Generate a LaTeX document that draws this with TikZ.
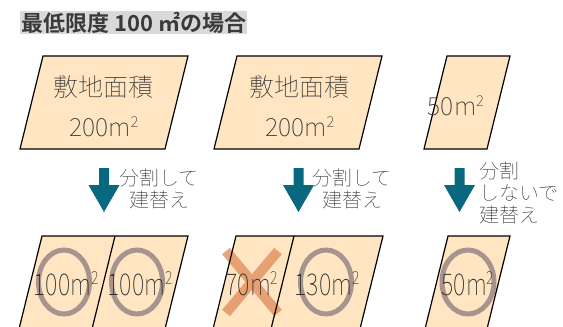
\documentclass[tikz,border=0pt]{standalone}
\usepackage{fontspec}
\newfontfamily\jp{Noto Sans CJK JP Thin}
\newfontfamily\jpb{Noto Sans CJK JP Bold}
\newcommand\sqtwo{\raisebox{0.34em}{\scalebox{0.6}{2}}}
\definecolor{boxfill}{HTML}{FFE5C2}
\definecolor{arrowc}{HTML}{08687F}
\definecolor{ringc}{HTML}{A8948F}
\definecolor{crossc}{HTML}{E08A58}
\definecolor{txt}{HTML}{2E2E2E}
\definecolor{titlebg}{HTML}{D9D9D9}
\definecolor{titletxt}{HTML}{3A3A3A}
\begin{document}
\begin{tikzpicture}[x=1pt,y=-1pt,
  land/.style={fill=boxfill},
  edge/.style={draw=black, line width=1.2pt, line join=miter},
  ring/.style={draw=ringc, line width=5pt},
  cross/.style={draw=crossc, draw opacity=0.75, line width=10pt},
  bigarrow/.style={fill=arrowc},
  lbl/.style={font=\jp\fontsize{25}{28}\selectfont, text=txt, inner sep=0pt, anchor=base},
  lblb/.style={font=\jp\fontsize{30}{32}\selectfont, text=txt, inner sep=0pt, anchor=base},
  note/.style={font=\jp\fontsize{20}{22}\selectfont, text=txt, inner sep=0pt},
  titlebox/.style={fill=titlebg, text=titletxt, font=\jpb\fontsize{22}{23}\selectfont, inner xsep=1pt, inner ysep=0pt, minimum height=23pt, anchor=west}]
\useasboundingbox (0,0) rectangle (563,327);

% title
\node[titlebox] (title) at (20,22.5) {最低限度 100 ㎡の場合};

% top lots
\filldraw[land,edge] (43,56) -- (188,56) -- (165,149) -- (20,149) -- cycle;
\filldraw[land,edge] (237,56) -- (382,56) -- (359,149) -- (214,149) -- cycle;
\filldraw[land,edge] (447,56) -- (510,56) -- (487,149) -- (424,149) -- cycle;

\node[lbl] (a1) at (103,96) {敷地面積};
\node[lbl] (a2) at (104,136) {200m\sqtwo};
\node[lbl] (b1) at (299,96) {敷地面積};
\node[lbl] (b2) at (300,136) {200m\sqtwo};
\node[lbl] (c1) at (456,115) {50m\sqtwo};

% arrows
\foreach \cx in {104,298.5,459.5}
  \fill[bigarrow] (\cx-5,168) -- (\cx+5,168) -- (\cx+5,185) -- (\cx+15.5,185)
    -- (\cx,212) -- (\cx-15.5,185) -- (\cx-5,185) -- cycle;

\node[note, align=center] (n1) at (159,189) {分割して\\建替え};
\node[note, align=center] (n2) at (352,189) {分割して\\建替え};
\node[note, align=left, anchor=west] (n3) at (479,193) {分割\\しないで\\建替え};

% bottom lots (fills)
\fill[land] (42,236) -- (188,236) -- (165,329) -- (19,329) -- cycle;
\fill[land] (236,236) -- (383,236) -- (360,329) -- (213,329) -- cycle;
\fill[land] (448,236) -- (510,236) -- (487,329) -- (425,329) -- cycle;

% rings
\draw[ring] (64,282) ellipse [x radius=25.5, y radius=32];
\draw[ring] (137,282) ellipse [x radius=25.5, y radius=32];
\draw[ring] (326,282) ellipse [x radius=25.5, y radius=32];
\draw[ring] (468,282) ellipse [x radius=26, y radius=32];

% cross
\draw[cross] (226,251) -- (278,313) (278,251) -- (226,313);

% bottom lots (borders)
\draw[edge] (42,236) -- (188,236) -- (165,329) -- (19,329) -- cycle;
\draw[edge] (115,236) -- (92,329);
\draw[edge] (236,236) -- (383,236) -- (360,329) -- (213,329) -- cycle;
\draw[edge] (294,236) -- (271,329);
\draw[edge] (448,236) -- (510,236) -- (487,329) -- (425,329) -- cycle;

% bottom labels
\node[lblb] (d1) at (66,295) {\scalebox{0.78}[1]{100m\sqtwo}};
\node[lblb] (d2) at (140,295) {\scalebox{0.78}[1]{100m\sqtwo}};
\node[lblb] (e1) at (252,295) {\scalebox{0.78}[1]{70m\sqtwo}};
\node[lblb] (e2) at (327,295) {\scalebox{0.78}[1]{130m\sqtwo}};
\node[lblb] (f1) at (468,295) {\scalebox{0.78}[1]{50m\sqtwo}};
\end{tikzpicture}
\end{document}
